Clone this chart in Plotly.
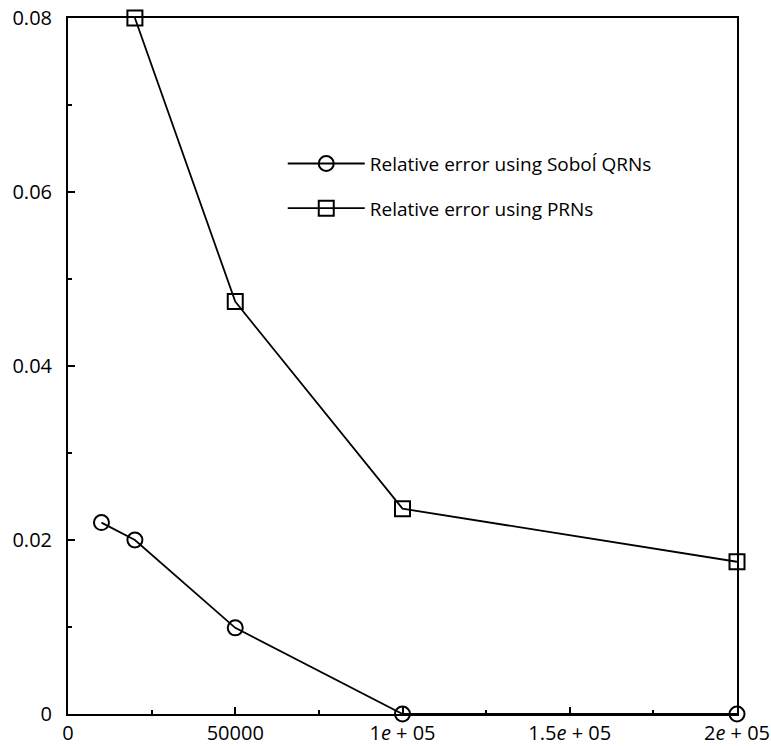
import plotly.graph_objects as go

samples_sobol = [10000, 20000, 50000, 100000, 200000]
err_sobol = [0.022, 0.020, 0.0099, 0.0, 0.0]
samples_prn = [20000, 50000, 100000, 200000]
err_prn = [0.080, 0.0474, 0.0236, 0.0175]

x_tickvals = [0, 50000, 100000, 150000, 200000]
x_ticktext = ["0", "50000", "1<i>e</i> + 05", "1.5<i>e</i> + 05", "2<i>e</i> + 05"]
y_tickvals = [0, 0.02, 0.04, 0.06, 0.08]
y_ticktext = ["0", "0.02", "0.04", "0.06", "0.08"]

FONT = "Open Sans, Lato, sans-serif"

fig = go.Figure()
fig.add_trace(go.Scatter(
    x=samples_sobol, y=err_sobol, mode="lines+markers",
    name="Relative error using Soboĺ QRNs", legendgroup="a",
    line=dict(color="black", width=1.8),
    marker=dict(symbol="circle-open", size=15, color="black", line=dict(width=2)),
    cliponaxis=False,
))
fig.add_trace(go.Scatter(
    x=samples_prn, y=err_prn, mode="lines+markers",
    name="Relative error using PRNs", legendgroup="b",
    line=dict(color="black", width=1.8),
    marker=dict(symbol="square-open", size=15, color="black", line=dict(width=2)),
    cliponaxis=False,
))

axis_common = dict(
    showline=True, linecolor="black", linewidth=2, mirror=True,
    ticks="inside", ticklen=7, tickwidth=1.5, tickcolor="black",
    showgrid=False, zeroline=False, automargin=False,
    tickfont=dict(family=FONT, size=20, color="black"),
)
fig.update_xaxes(
    range=[0, 200000], tickmode="array", tickvals=x_tickvals, ticktext=x_ticktext,
    minor=dict(ticks="inside", ticklen=4, dtick=25000, tickcolor="black"),
    **axis_common,
)
fig.update_yaxes(
    range=[0, 0.08], tickmode="array", tickvals=y_tickvals, ticktext=y_ticktext,
    minor=dict(ticks="inside", ticklen=4, dtick=0.01, tickcolor="black"),
    ticklabelstandoff=10,
    **axis_common,
)

fig.update_layout(
    width=771, height=746,
    margin=dict(l=68, r=34, t=18, b=32),
    paper_bgcolor="white", plot_bgcolor="white",
    showlegend=True,
    legend=dict(
        x=0.321, y=0.818, xanchor="left", yanchor="top",
        bgcolor="rgba(0,0,0,0)", itemwidth=77,
        font=dict(family=FONT, size=19, color="black"),
        tracegroupgap=17,
    ),
)

fig.write_html("out.html")
